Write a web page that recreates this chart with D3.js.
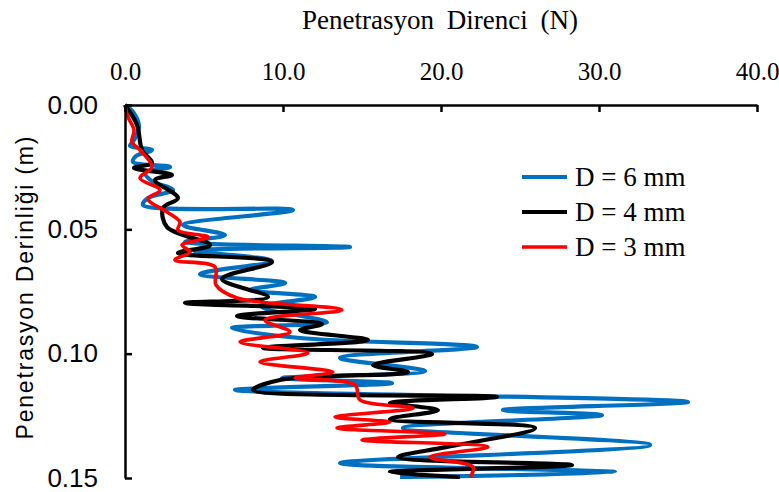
<!DOCTYPE html>
<html><head><meta charset="utf-8">
<script src="https://cdn.jsdelivr.net/npm/d3@7"></script>
<style>body{margin:0;background:#fff}svg{display:block}</style>
</head><body>
<svg id="c" width="779" height="492"></svg>
<script>
// Data: [force (N), depth (m)]
const seriesNames = ["D = 6 mm", "D = 4 mm", "D = 3 mm"];
const seriesColors = ["#0070C0", "#000000", "#FF0000"];
const xTicks = [0, 10, 20, 30, 40];
const yTicks = [0, 0.05, 0.10, 0.15];

const blueForce = [0.0,0.51,0.89,0.57,0.32,1.71,0.70,0.51,2.85,1.27,1.71,3.04,1.46,1.14,10.63,3.67,6.33,3.80,14.24,4.43,9.30,4.75,10.13,7.91,12.03,8.67,12.78,6.77,11.08,22.28,13.61,18.99,9.94,16.90,6.96,35.63,23.92,30.19,17.59,33.23,13.61,31.01,17.41];
const blueDepth = [0.0,0.0028,0.0088,0.0141,0.0165,0.0181,0.0205,0.0229,0.0249,0.0273,0.0306,0.0342,0.0374,0.0402,0.0422,0.0483,0.0523,0.0551,0.0571,0.0587,0.0627,0.0680,0.0716,0.0744,0.0772,0.0812,0.0873,0.0897,0.0937,0.0973,0.1017,0.1070,0.1098,0.1118,0.1146,0.1194,0.1227,0.1247,0.1299,0.1367,0.1440,0.1476,0.1496];

const blackForce = [0.0,0.76,1.08,1.71,0.57,2.97,1.90,3.35,2.41,2.66,5.38,3.35,9.30,6.14,9.05,3.80,12.03,7.09,12.47,11.08,15.38,8.73,19.43,15.70,17.91,9.81,8.10,23.54,16.77,19.81,16.77,25.95,20.38,17.28,28.29,16.77,21.20];
const blackDepth = [0.0,0.0080,0.0181,0.0233,0.0253,0.0281,0.0302,0.0374,0.0414,0.0491,0.0563,0.0595,0.0631,0.0700,0.0772,0.0796,0.0820,0.0849,0.0881,0.0905,0.0945,0.0977,0.1001,0.1046,0.1074,0.1106,0.1146,0.1174,0.1198,0.1227,0.1263,0.1299,0.1375,0.1416,0.1448,0.1476,0.1496];

const redForce = [0.0,0.19,0.57,0.44,0.95,1.71,0.95,2.22,1.46,2.66,3.48,3.35,5.25,3.61,4.11,3.16,5.70,5.76,7.09,13.73,8.86,10.44,7.28,11.58,8.54,13.16,10.76,14.56,14.87,18.23,13.29,16.77,13.42,20.25,15.00,22.97,19.30,22.03,21.84];
const redDepth = [0.0,0.0048,0.0101,0.0149,0.0181,0.0249,0.0294,0.0342,0.0378,0.0430,0.0471,0.0503,0.0531,0.0563,0.0591,0.0623,0.0651,0.0724,0.0776,0.0824,0.0865,0.0913,0.0953,0.0997,0.1033,0.1074,0.1098,0.1126,0.1186,0.1218,0.1255,0.1275,0.1299,0.1323,0.1347,0.1375,0.1416,0.1456,0.1496];

const series = [
  {name: seriesNames[0], color: seriesColors[0], f: blueForce, d: blueDepth, w: 4.2},
  {name: seriesNames[1], color: seriesColors[1], f: blackForce, d: blackDepth, w: 4.2},
  {name: seriesNames[2], color: seriesColors[2], f: redForce, d: redDepth, w: 3.6}
];

const svg = d3.select("#c");
const x = d3.scaleLinear().domain([0, 40]).range([125, 757]);
const y = d3.scaleLinear().domain([0, 0.15]).range([105, 478]);

const serif = "'Liberation Serif','Times New Roman',serif";
const sans = "'Liberation Sans',Arial,sans-serif";

// Lines
const line = d3.line().x(p => x(p[0])).y(p => y(p[1])).curve(d3.curveCatmullRom.alpha(0.5));
const plot = svg.append("g");
series.forEach(s => {
  const pts = s.f.map((v, i) => [v, s.d[i]]);
  plot.append("path").attr("d", line(pts)).attr("fill", "none")
    .attr("stroke", s.color).attr("stroke-width", s.w).attr("stroke-linejoin", "round");
});

// Axes
const xAxis = d3.axisTop(x).tickValues(xTicks).tickFormat(d3.format(".1f")).tickSizeInner(-7).tickSizeOuter(0).tickPadding(25);
const gx = svg.append("g").attr("transform", "translate(0,105)").call(xAxis);
gx.select(".domain").attr("stroke", "#000").attr("stroke-width", 2.5);
gx.selectAll(".tick line").attr("stroke", "#000").attr("stroke-width", 2.5);
gx.selectAll(".tick text").attr("font-family", serif).attr("font-size", 25).attr("fill", "#000");

const yAxis = d3.axisLeft(y).tickValues(yTicks).tickFormat(d3.format(".2f")).tickSizeInner(-7).tickSizeOuter(0).tickPadding(27);
const gy = svg.append("g").attr("transform", "translate(125,0)").call(yAxis);
gy.select(".domain").attr("stroke", "#000").attr("stroke-width", 2.5);
gy.selectAll(".tick line").attr("stroke", "#000").attr("stroke-width", 2.5);
gy.selectAll(".tick text").attr("font-family", sans).attr("font-size", 26).attr("fill", "#000");

// Titles
svg.append("text").attr("x", 440).attr("y", 29).attr("text-anchor", "middle")
  .attr("font-family", serif).attr("font-size", 27).attr("word-spacing", 6).text("Penetrasyon Direnci (N)");
svg.append("text").attr("transform", "translate(33,288) rotate(-90)").attr("text-anchor", "middle")
  .attr("font-family", sans).attr("font-size", 23)
  .attr("textLength", 303).attr("lengthAdjust", "spacing").text("Penetrasyon Derinliği (m)");

// Legend
const legend = svg.append("g");
series.forEach((s, i) => {
  const ly = 177 + i * 35;
  legend.append("line").attr("x1", 522).attr("x2", 567).attr("y1", ly).attr("y2", ly)
    .attr("stroke", s.color).attr("stroke-width", s.w);
  legend.append("text").attr("x", 575).attr("y", ly + 9).attr("font-family", serif)
    .attr("font-size", 27).text(s.name);
});
</script>
</body></html>
